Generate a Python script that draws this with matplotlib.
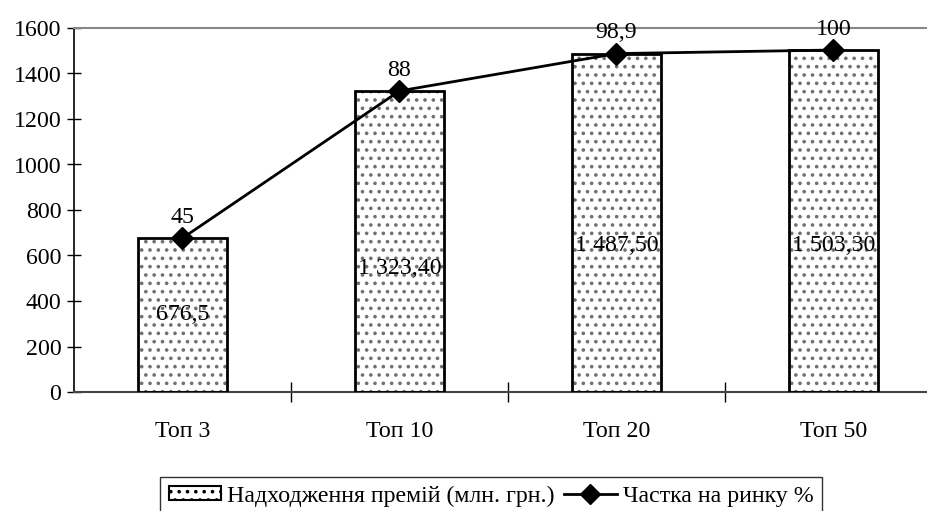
import matplotlib
matplotlib.use("Agg")
import matplotlib.pyplot as plt
from matplotlib.patches import Patch
from matplotlib.lines import Line2D

plt.rcParams['font.family'] = ['Liberation Serif', 'DejaVu Serif']
plt.rcParams['hatch.linewidth'] = 1.4

categories = ["Топ 3", "Топ 10", "Топ 20", "Топ 50"]
premiums = [676.5, 1323.4, 1487.5, 1503.3]
premium_labels = ["676,5", "1 323,40", "1 487,50", "1 503,30"]
share_labels = ["45", "88", "98,9", "100"]
label_y = [340, 545, 645, 645]

fs = 17.2

fig = plt.figure(figsize=(9.28, 5.11), dpi=100)
ax = fig.add_axes([74 / 928, 119 / 511, 868 / 928, 364 / 511])

x = list(range(len(categories)))
# dotted fill first, then outline on top
ax.bar(x, premiums, width=0.41, color='white', hatch='..', edgecolor='#707070', linewidth=0, zorder=2)
ax.bar(x, premiums, width=0.41, fill=False, edgecolor='black', linewidth=2, zorder=3)

ax.plot(x, premiums, color='black', lw=2, marker='D', markersize=11, zorder=4)

for i in x:
    ax.text(i, label_y[i], premium_labels[i], ha='center', va='center', fontsize=fs, zorder=5)
    ax.text(i, premiums[i] + 45, share_labels[i], ha='center', va='bottom', fontsize=fs, zorder=5)

ax.set_xlim(-0.5, 3.5)
ax.set_ylim(0, 1600)
ax.set_yticks(range(0, 1601, 200))
ax.set_xticks(x)
ax.set_xticklabels(categories, fontsize=fs)
ax.set_xticks([0.5, 1.5, 2.5], minor=True)
ax.tick_params(axis='x', which='major', length=0, pad=21)
ax.tick_params(axis='x', which='minor', direction='inout', length=14, width=1)
ax.tick_params(axis='y', direction='inout', length=10, width=1, labelsize=fs, pad=4)

ax.spines['right'].set_visible(False)
ax.spines['top'].set_color('#888888')
ax.spines['top'].set_linewidth(1.5)
ax.spines['bottom'].set_color('#444444')
ax.spines['bottom'].set_linewidth(1.5)
ax.spines['left'].set_linewidth(1.2)

handles = [
    Patch(facecolor='white', edgecolor='black', hatch='..', linewidth=1.5, label='Надходження премій (млн. грн.)'),
    Line2D([0], [0], color='black', lw=2, marker='D', markersize=10, label='Частка на ринку %'),
]
fig.legend(handles=handles, loc='upper center', bbox_to_anchor=(491 / 928, 1 - 477 / 511),
           borderaxespad=0, ncol=2, frameon=True, fancybox=False, edgecolor='black', fontsize=fs,
           handlelength=2.2, handleheight=0.5, columnspacing=0.4, handletextpad=0.25, borderpad=0.35)

fig.savefig("out.png", dpi=100)
